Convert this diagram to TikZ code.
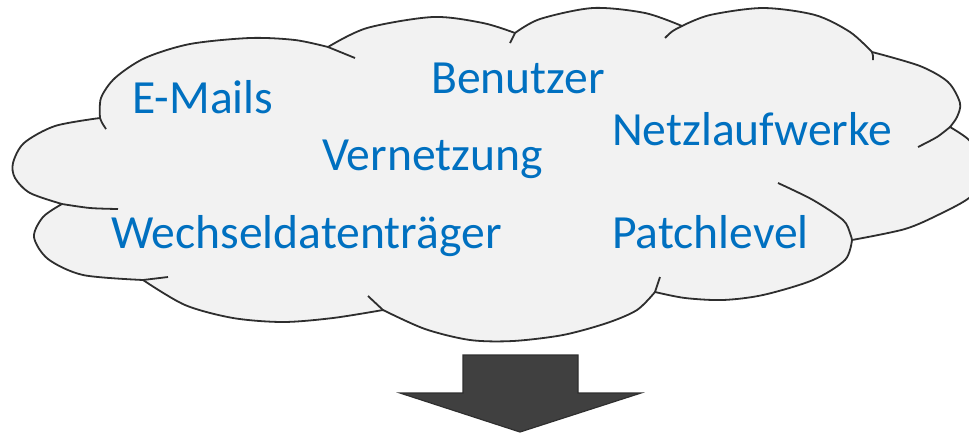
\documentclass[tikz,border=0pt]{standalone}
\usepackage{fontspec}
\setmainfont{Carlito}
\definecolor{cloudfill}{HTML}{F2F2F2}
\definecolor{cloudline}{HTML}{2E2E2E}
\definecolor{wordblue}{HTML}{0070C0}
\definecolor{arrowfill}{HTML}{404040}
\definecolor{arrowline}{HTML}{2F2F2F}
\tikzset{
  cloudshape/.style={fill=cloudfill, draw=cloudline, line width=1.8pt, line join=round},
  cloudtick/.style={draw=cloudline, line width=1.8pt, line cap=butt},
  word/.style={anchor=base west, inner sep=0pt, text=wordblue, font=\fontsize{47.6}{57}\selectfont},
  bigarrow/.style={fill=arrowfill, draw=arrowline, line width=1.2pt, line join=miter}
}
\begin{document}
\begin{tikzpicture}[x=1pt,y=-1pt]
\clip (0,0) rectangle (969,432);
% cloud outline
\path[cloudshape]
  plot[smooth] coordinates {(62,204) (30,193) (15,178) (13,163) (24,143) (55,126) (100,118)}
  -- plot[smooth] coordinates {(100,118) (101,98) (115,78) (145,58) (190,44) (250,38) (295,40) (328,47)}
  -- plot[smooth] coordinates {(328,47) (367,28) (433,17) (483,23) (515,33)}
  -- plot[smooth] coordinates {(515,33) (540,19) (593,8) (645,13) (682,26)}
  -- plot[smooth] coordinates {(682,26) (710,15) (763,8) (815,15) (850,32) (872,52)}
  -- plot[smooth] coordinates {(872,52) (920,66) (948,82) (960,103) (957,117) (950,127)}
  -- plot[smooth] coordinates {(950,127) (969,140) (982,160) (983,180) (969,198) (940,214) (905,229) (852,240)}
  -- plot[smooth] coordinates {(852,240) (845,260) (813,280) (763,295) (723,300) (685,298) (655,292)}
  -- plot[smooth] coordinates {(655,292) (637,310) (607,323) (563,335) (513,341) (470,340) (425,329) (383,310)}
  -- plot[smooth] coordinates {(383,310) (333,318) (283,322) (233,318) (185,305) (143,280)}
  -- plot[smooth] coordinates {(143,280) (83,275) (48,259) (34,237) (43,217) (62,204)}
  -- cycle;
% inner arc ends
\draw[cloudtick] (100,118) .. controls (102,123) .. (106,129);
\draw[cloudtick] (328,47) .. controls (342,52) .. (355,58);
\draw[cloudtick] (515,33) .. controls (512,38) .. (510,43);
\draw[cloudtick] (682,26) .. controls (672,31) .. (665,38);
\draw[cloudtick] (872,52) .. controls (873,55) .. (873,60);
\draw[cloudtick] plot[smooth] coordinates {(950,127) (937,137) (918,147)};
\draw[cloudtick] plot[smooth] coordinates {(852,240) (850,233) (843,220) (813,200) (778,183)};
\draw[cloudtick] (655,292) .. controls (658,285) .. (660,277);
\draw[cloudtick] (383,310) .. controls (375,303) .. (368,296);
\draw[cloudtick] (143,280) .. controls (155,279) .. (168,277);
\draw[cloudtick] plot[smooth] coordinates {(62,204) (90,208) (118,209)};
% words
\node[word] (emails) at (132,113) {E-Mails};
\node[word] (benutzer) at (431,93) {Benutzer};
\node[word] (vernetzung) at (322,170) {Vernetzung};
\node[word] (netz) at (612,145) {Netzlaufwerke};
\node[word] (wechsel) at (111,248) {Wechseldatenträger};
\node[word] (patch) at (612,248) {Patchlevel};
% arrow
\path[bigarrow] (463,355) -- (578,355) -- (578,393) -- (641,393) -- (520,432) -- (400,393) -- (463,393) -- cycle;
\end{tikzpicture}
\end{document}
